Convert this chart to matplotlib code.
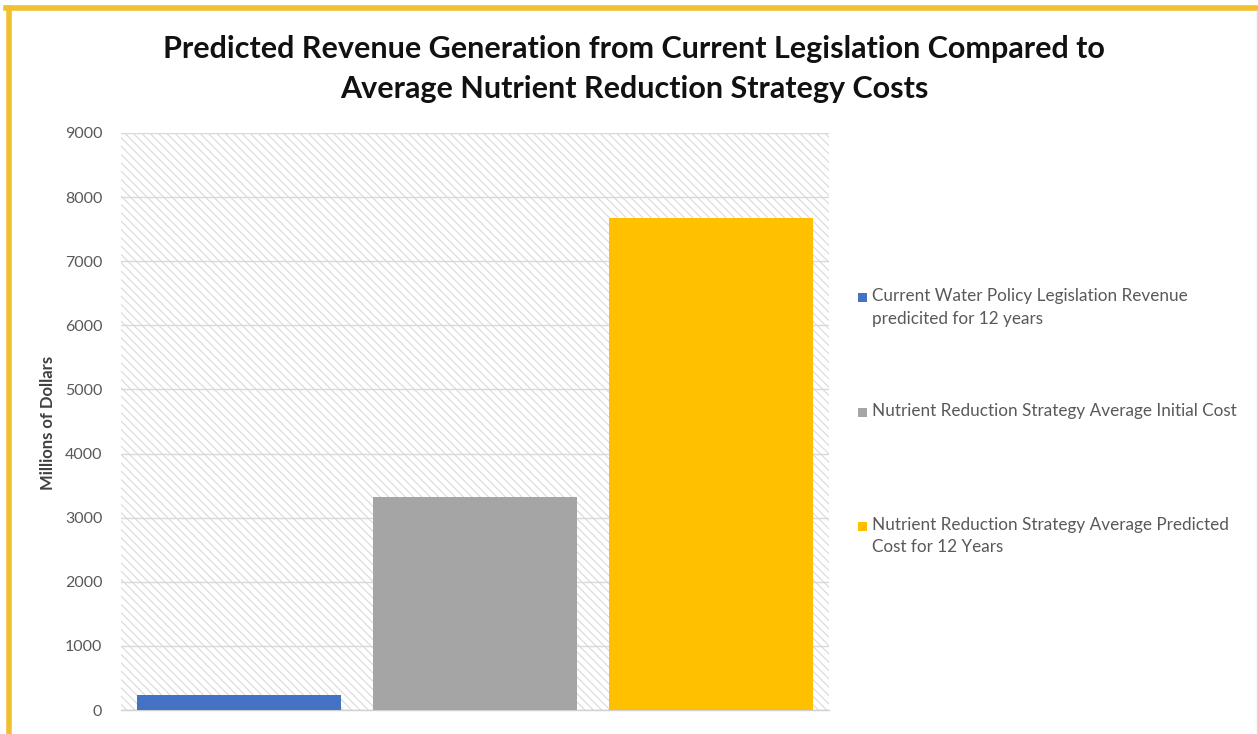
import matplotlib
matplotlib.use("Agg")
import matplotlib.pyplot as plt
from matplotlib.patches import Rectangle
from matplotlib.lines import Line2D

series_names = [
    "Current Water Policy Legislation Revenue\npredicited for 12 years",
    "Nutrient Reduction Strategy Average Initial Cost",
    "Nutrient Reduction Strategy Average Predicted\nCost for 12 Years",
]
values = [230, 3320, 7670]
colors = ["#4472C4", "#A5A5A5", "#FFC000"]
yticks = [0, 1000, 2000, 3000, 4000, 5000, 6000, 7000, 8000, 9000]
title = "Predicted Revenue Generation from Current Legislation Compared to\nAverage Nutrient Reduction Strategy Costs"
ylabel = "Millions of Dollars"

plt.rcParams['font.family'] = ['Lato', 'DejaVu Sans']
plt.rcParams['hatch.color'] = '#d9d9d9'
plt.rcParams['hatch.linewidth'] = 0.8

W, H = 1258, 734
fig = plt.figure(figsize=(W / 100, H / 100), dpi=100)
fig.patch.set_facecolor('white')

ax = fig.add_axes([121 / W, (H - 710) / H, (829 - 121) / W, (710 - 133) / H])
ax.set_facecolor('white')
bg = Rectangle((0, 0), 1, 1, transform=ax.transAxes, facecolor='white',
               edgecolor='#d9d9d9', hatch='\\\\\\\\', linewidth=0, zorder=0)
ax.add_patch(bg)

x = list(range(len(values)))
ax.bar(x, values, width=0.865, color=colors, zorder=3)
ax.set_xlim(-0.5, 2.5)
ax.set_ylim(0, 9000)
ax.set_yticks(yticks)
ax.set_yticklabels([str(t) for t in yticks])
ax.set_xticks([])
ax.grid(axis='y', color='#d9d9d9', linewidth=1.0, zorder=1)
ax.set_axisbelow(True)
for s in ['top', 'right', 'left']:
    ax.spines[s].set_visible(False)
ax.spines['bottom'].set_color('#d0d0d0')
ax.spines['bottom'].set_linewidth(1.0)
ax.tick_params(axis='y', length=0, pad=13.5, labelsize=11.5, labelcolor='#595959')

fig.text(48 / W, 1 - 423 / H, ylabel, rotation=90, ha='center', va='center',
         fontsize=12, fontweight='bold', color='#404040')

fig.text(634 / W, 1 - 69 / H, title, ha='center', va='center', fontsize=22,
         fontweight='bold', color='#111111', linespacing=1.5)

# legend
leg_y = [297.5, 412, 526]
for name, c, yy in zip(series_names, colors, leg_y):
    fig.patches.append(Rectangle((858 / W, 1 - (yy + 4.5) / H), 9 / W, 9 / H,
                                 transform=fig.transFigure, facecolor=c,
                                 edgecolor='none'))
    fig.text(872 / W, 1 - (yy - 9) / H, name, ha='left', va='top',
             fontsize=12.3, color='#595959', linespacing=1.5)

# border
fig.add_artist(Line2D([8.5 / W, 8.5 / W], [0, 1 - 8 / H], transform=fig.transFigure,
                      color='#F0C030', linewidth=4))
fig.add_artist(Line2D([6.5 / W, 1], [1 - 8 / H, 1 - 8 / H], transform=fig.transFigure,
                      color='#F0C030', linewidth=4))
fig.add_artist(Line2D([1256.5 / W, 1256.5 / W], [0, 1 - 10 / H], transform=fig.transFigure,
                      color='#d9d9d9', linewidth=1))

fig.savefig("out.png", dpi=100)
